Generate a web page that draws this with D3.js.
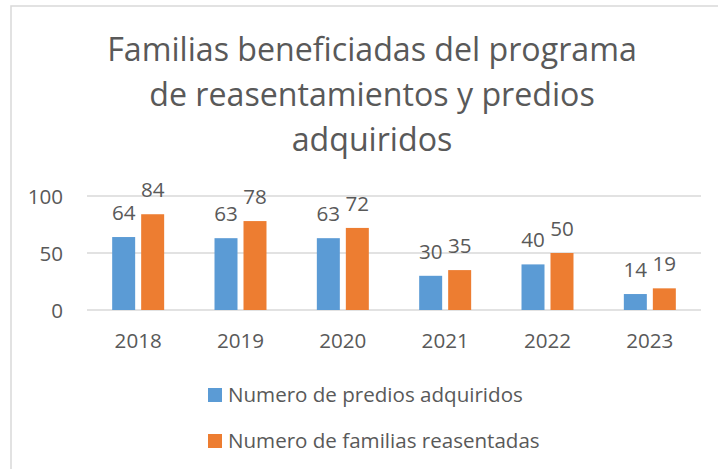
<!DOCTYPE html>
<html lang="en">
<head>
    <meta charset="UTF-8">
    <title>Familias beneficiadas</title>
    <script src="https://cdn.jsdelivr.net/npm/d3@7"></script>
    <style>
        body {
            margin: 0;
            background: white;
        }
        text {
            font-family: "Open Sans", sans-serif;
            fill: #595959;
        }
    </style>
</head>
<body>
<script>
    const width  = 718;
    const height = 469;

    // chart data
    const years      = ["2018", "2019", "2020", "2021", "2022", "2023"];
    const predios    = [64, 63, 63, 30, 40, 14];
    const familias   = [84, 78, 72, 35, 50, 19];
    const seriesKeys = ["predios", "familias"];
    const seriesNames = ["Numero de predios adquiridos", "Numero de familias reasentadas"];
    const colors     = ["#5B9BD5", "#ED7D31"];
    const yTicks     = [0, 50, 100];
    const titleLines = ["Familias beneficiadas del programa",
                        "de reasentamientos y predios",
                        "adquiridos"];

    const rows = years.map((y, i) => ({year: y, predios: predios[i], familias: familias[i]}));

    const numSize = 20.6;

    const svg = d3.select("body").append("svg")
        .attr("width", width)
        .attr("height", height);

    // chart area border
    svg.append("rect")
        .attr("x", 11).attr("y", 6)
        .attr("width", width + 10).attr("height", height + 10)
        .attr("fill", "none")
        .attr("stroke", "#D9D9D9")
        .attr("stroke-width", 1.5);

    // Title - size fitted to the reference line width
    const title = svg.append("g");
    const titleSize = fitSize(titleLines[0], 530, 32);
    title.selectAll("text")
        .data(titleLines)
        .join("text")
          .attr("x", 372)
          .attr("y", (d, i) => 61 + i * 45)
          .attr("text-anchor", "middle")
          .style("font-size", titleSize + "px")
          .text(d => d);

    const x0 = d3.scaleBand()
        .domain(years)
        .range([87, 701])
        .paddingInner(0.492)
        .paddingOuter(0.246);

    const x1 = d3.scaleBand()
        .domain(seriesKeys)
        .range([0, x0.bandwidth()])
        .paddingInner(0.207);

    const y = d3.scaleLinear()
        .domain([0, 100])
        .range([310, 196]);

    // gridlines
    svg.append("g")
        .selectAll("line")
        .data(yTicks)
        .join("line")
          .attr("x1", 87).attr("x2", 701)
          .attr("y1", d => y(d)).attr("y2", d => y(d))
          .attr("stroke", "#D9D9D9")
          .attr("stroke-width", 1.5);

    // y axis labels
    const yAxis = svg.append("g")
        .attr("transform", "translate(63,0)")
        .call(d3.axisLeft(y).tickValues(yTicks).tickSize(0).tickPadding(0));
    yAxis.select(".domain").remove();
    yAxis.selectAll("text")
        .attr("dy", "0.35em")
        .style("font-size", numSize + "px")
        .style("font-family", "'Open Sans', sans-serif")
        .attr("fill", "#595959");

    // x axis labels
    const xAxis = svg.append("g")
        .attr("transform", "translate(0,310)")
        .call(d3.axisBottom(x0).tickSize(0).tickPadding(0));
    xAxis.select(".domain").remove();
    xAxis.selectAll("text")
        .attr("dy", null)
        .attr("y", 38)
        .style("font-size", numSize + "px")
        .style("font-family", "'Open Sans', sans-serif")
        .attr("fill", "#595959");

    // bars
    const groups = svg.append("g")
        .selectAll("g")
        .data(rows)
        .join("g")
          .attr("transform", d => `translate(${x0(d.year)},0)`);

    groups.selectAll("rect")
        .data(d => seriesKeys.map((k, i) => ({key: k, value: d[k], color: colors[i]})))
        .join("rect")
          .attr("x", d => x1(d.key))
          .attr("y", d => y(d.value))
          .attr("width", x1.bandwidth())
          .attr("height", d => y(0) - y(d.value))
          .attr("fill", d => d.color);

    groups.selectAll("text")
        .data(d => seriesKeys.map(k => ({key: k, value: d[k]})))
        .join("text")
          .attr("x", d => x1(d.key) + x1.bandwidth() / 2)
          .attr("y", d => y(d.value) - 17)
          .attr("text-anchor", "middle")
          .style("font-size", numSize + "px")
          .text(d => d.value);

    // legend
    const legendSize = fitSize(seriesNames[0], 295, 20);
    const legend = svg.append("g")
        .selectAll("g")
        .data(seriesNames)
        .join("g")
          .attr("transform", (d, i) => `translate(208,${388 + i * 46})`);

    legend.append("rect")
        .attr("width", 14).attr("height", 14)
        .attr("fill", (d, i) => colors[i]);

    legend.append("text")
        .attr("x", 20)
        .attr("y", 14)
        .style("font-size", legendSize + "px")
        .text(d => d);

    // Scales a font size so a string comes out at the wanted width
    function fitSize(str, target, start) {
        const t = svg.append("text").style("font-size", start + "px").text(str);
        const w = t.node().getComputedTextLength();
        t.remove();
        return start * target / w;
    }
</script>
</body>
</html>
